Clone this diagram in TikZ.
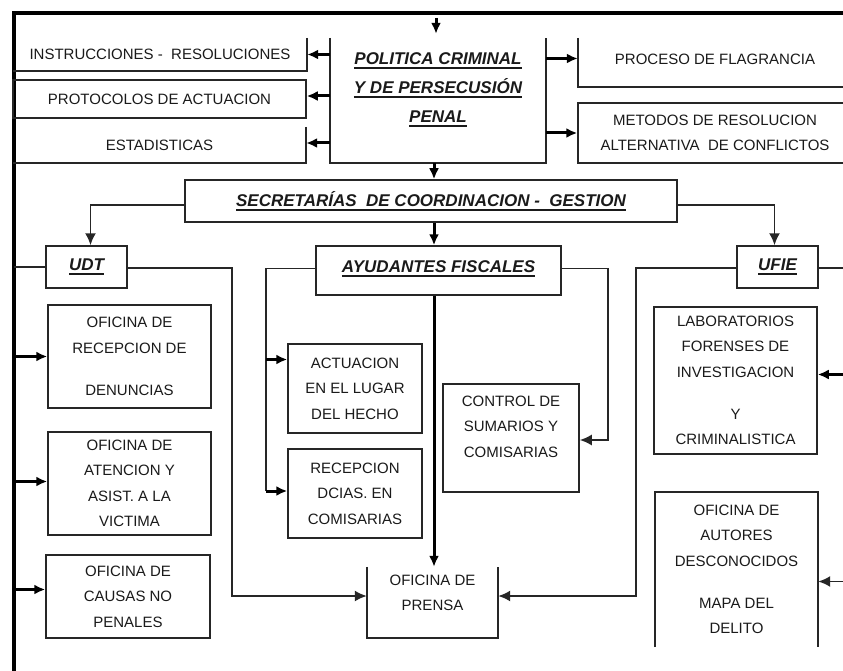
\documentclass[tikz,border=0pt]{standalone}
\usepackage{fontspec}
\setmainfont{Liberation Sans}
\usetikzlibrary{arrows.meta}
\definecolor{linec}{HTML}{262626}
\definecolor{txtc}{HTML}{1A1A1A}
\newcommand{\bxf}{\fontsize{15}{25.5}\selectfont}
\newcommand{\ttlf}{\fontsize{17}{29}\selectfont\bfseries\itshape}
\newcommand{\uln}[1]{\setbox0\hbox{#1}\leavevmode\rlap{\rule[-4pt]{\wd0}{1.6pt}}\box0}
\tikzset{
  base/.style={inner sep=0pt, align=center, text=txtc, font=\bxf},
  box/.style={base, draw=linec, line width=1.5pt},
  obox/.style={base, draw=none},
  conn/.style={draw=linec, line width=1.8pt},
  arr/.style={conn, -{Latex[length=12pt,width=11pt]}},
  arrT/.style={draw=black, line width=3pt, -{Latex[length=11pt,width=10pt]}},
  edge/.style={draw=linec, line width=1.5pt}
}
\begin{document}
\begin{tikzpicture}[x=1pt,y=-1pt]
\useasboundingbox (0,0) rectangle (843,671);
\fill[white] (0,0) rectangle (843,671);

% helper coordinates
\coordinate (frameBL) at (13.5,680);
\coordinate (frameTL) at (13.5,13.5);
\coordinate (frameTR) at (850,13.5);
\coordinate (frameL) at (13.5,0);
\coordinate (redge) at (852,0);
\coordinate (spine) at (434,0);
\coordinate (top) at (436,18);

% frame
\draw[line width=4pt, black] (frameBL) -- (frameTL) -- (frameTR);

% top-left boxes
\node[obox, minimum width=294, minimum height=33] (instr) at (160,54.5) {INSTRUCCIONES -\ \ RESOLUCIONES};
\draw[edge] (instr.north east) -- (instr.south east) -- (instr.south west);
\node[box, minimum width=293, minimum height=38] (proto) at (159.5,99) {PROTOCOLOS DE ACTUACION};
\node[obox, minimum width=293, minimum height=36] (estad) at (159.5,145) {ESTADISTICAS};
\draw[edge] (estad.north east) -- (estad.south east) -- (estad.south west);

% politica
\node[obox, minimum width=216, minimum height=125, font=\ttlf] (pol) at (438,100.5)
  {\uln{POLITICA CRIMINAL}\\\uln{Y DE PERSECUSIÓN}\\\uln{PENAL}\\[-12pt]\strut};
\draw[edge] (pol.north west) -- (pol.south west) -- (pol.south east) -- (pol.north east);

% top-right boxes
\node[obox, minimum width=274, minimum height=49] (proc) at (715,62.5) {\raisebox{7pt}{PROCESO DE FLAGRANCIA}};
\draw[edge] (proc.north west) -- (proc.south west) -- (proc.south east);
\node[box, minimum width=274, minimum height=60] (meto) at (715,133) {METODOS DE RESOLUCION\\ALTERNATIVA\ \ DE CONFLICTOS};

% arrows around politica
\draw[arrT] (top) -- ([yshift=4pt]pol.north -| top);
\draw[arrT] (pol.west |- instr.east) -- (instr.east);
\draw[arrT] ([yshift=3pt]pol.west |- proto.east) -- ([yshift=3pt]proto.east);
\draw[arrT] ([yshift=2pt]pol.west |- estad.east) -- ([yshift=2pt]estad.east);
\draw[arrT] ([yshift=4pt]pol.east |- proc.west) -- ([yshift=4pt]proc.west);
\draw[arrT] (pol.east |- meto.west) -- (meto.west);

% secretarias
\node[box, font=\ttlf, minimum width=492, minimum height=42] (secr) at (431,201)
  {\uln{SECRETARÍAS\ \ DE COORDINACION -\ \ GESTION}};
\draw[arrT] (pol.south -| spine) -- (secr.north -| spine);

% level 2
\node[box, font=\ttlf, minimum width=81, minimum height=42] (udt) at (86.5,267) {\uln{UDT}};
\node[box, font=\ttlf, minimum width=245, minimum height=49] (ayu) at (438.5,270.5) {\raisebox{7pt}{\uln{AYUDANTES FISCALES}}};
\node[box, font=\ttlf, minimum width=81, minimum height=42] (ufie) at (777.5,267) {\uln{UFIE}};

\draw[arr] ([yshift=-4pt]secr.west) -| ([xshift=4pt]udt.north);
\draw[arrT] (secr.south -| spine) -- (ayu.north -| spine);
\draw[arr] ([yshift=-4pt]secr.east) -| ([xshift=-3pt]ufie.north);

% UDT column
\node[box, minimum width=163, minimum height=103] (ofrec) at (129.5,356.5) {OFICINA DE\\RECEPCION DE\\[16.5pt]DENUNCIAS};
\node[box, minimum width=163, minimum height=103] (ofvic) at (129.5,483.5) {OFICINA DE\\ATENCION Y\\ASIST. A LA\\VICTIMA};
\node[box, minimum width=164, minimum height=83] (ofcau) at (128,596.5) {OFICINA DE\\CAUSAS NO\\PENALES};

\draw[conn] (udt.west) -- (udt.west -| frameL);
\draw[arrT] (frameL |- ofrec.west) -- (ofrec.west);
\draw[arrT] ([yshift=2pt]frameL |- ofvic.west) -- ([yshift=2pt]ofvic.west);
\draw[arrT] ([yshift=7pt]frameL |- ofcau.west) -- ([yshift=7pt]ofcau.west);

% Ayudantes column
\node[box, minimum width=134, minimum height=89] (actu) at (355,388.5) {ACTUACION\\EN EL LUGAR\\DEL HECHO};
\node[box, minimum width=134, minimum height=89] (recep) at (355,493.5) {RECEPCION\\DCIAS. EN\\COMISARIAS};
\node[box, minimum width=136, minimum height=108] (ctrl) at (511,438) {CONTROL DE\\SUMARIOS Y\\COMISARIAS\\[-10pt]\strut};
\node[obox, minimum width=131, minimum height=71] (prensa) at (432.5,602.5) {OFICINA DE\\PRENSA\\[-14pt]\strut};
\draw[edge] (prensa.north west) -- (prensa.south west) -- (prensa.south east) -- (prensa.north east);

\coordinate (ayL) at (266,491);
\coordinate (ayR) at (608,440);
\coordinate (lcorner) at (232,596);
\coordinate (rcorner) at (636,596);
\coordinate (actuIn) at ([yshift=29pt]actu.west);

\draw[conn] ([yshift=2pt]ayu.west) -| (ayL);
\draw[arrT] (ayL |- actuIn) -- (actuIn);
\draw[arrT] (ayL) -- (ayL -| recep.west);
\draw[arr] ([yshift=2pt]ayu.east) -| (ayR) -- (ayR -| ctrl.east);
\draw[arrT] (ayu.south -| spine) -- (prensa.north -| spine);
\draw[arr] ([yshift=-1pt]udt.east) -| (lcorner) -- (lcorner -| prensa.west);
\draw[arr] ([yshift=-1pt]ufie.west) -| (rcorner) -- (rcorner -| prensa.east);

% UFIE column
\node[box, minimum width=163, minimum height=147] (lab) at (735.5,380.5) {LABORATORIOS\\FORENSES DE\\INVESTIGACION\\[16.5pt]Y\\CRIMINALISTICA};
\node[obox, minimum width=163, minimum height=155] (aut) at (736.5,569.5) {OFICINA DE\\AUTORES\\DESCONOCIDOS\\[16.5pt]MAPA DEL\\DELITO};
\draw[edge] (aut.south west) -- (aut.north west) -- (aut.north east) -- (aut.south east);

\coordinate (labIn) at ([yshift=6pt]lab.east);
\coordinate (autIn) at ([yshift=-12pt]aut.east);
\draw[conn] ([yshift=-1pt]ufie.east) -- ([yshift=-1pt]ufie.east -| redge);
\draw[arrT] (labIn -| redge) -- (labIn);
\draw[arr] (autIn -| redge) -- (autIn);
\end{tikzpicture}
\end{document}
